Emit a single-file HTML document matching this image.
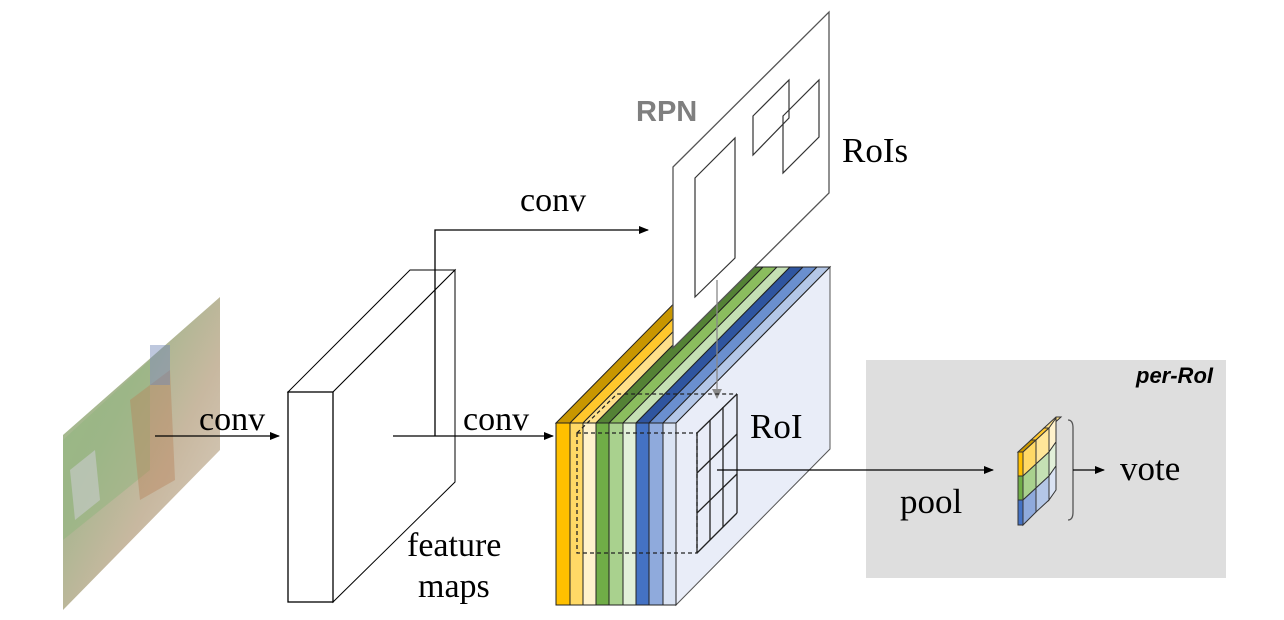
<!DOCTYPE html>
<html><head><meta charset="utf-8"><style>
html,body{margin:0;padding:0;background:#fff;}
svg{display:block}
text{font-family:"Liberation Serif",serif;fill:#000}
</style></head><body>
<svg width="1284" height="620" viewBox="0 0 1284 620" xmlns="http://www.w3.org/2000/svg">
<defs>
<marker id="ah" markerWidth="10" markerHeight="8" refX="9" refY="4" orient="auto" markerUnits="userSpaceOnUse"><path d="M0,0 L10,4 L0,8 z" fill="#000"/></marker>
<marker id="ahg" markerWidth="10" markerHeight="10" refX="5" refY="9" orient="0" markerUnits="userSpaceOnUse"><path d="M0,0 L10,0 L5,10 z" fill="#888"/></marker>
<linearGradient id="img" x1="0" y1="0" x2="1" y2="1">
<stop offset="0" stop-color="#9fbf8c"/><stop offset="0.35" stop-color="#a8b690"/><stop offset="0.6" stop-color="#c8b8a0"/><stop offset="1" stop-color="#ddd3c6"/>
</linearGradient>
</defs>
<rect x="866" y="360" width="360" height="218" fill="#DEDEDE"/>
<text x="1213" y="383" text-anchor="end" style="font-family:'Liberation Sans',sans-serif;font-weight:bold;font-style:italic;font-size:22px">per-RoI</text>

<polygon points="63,435 220,297 220,450 63,610" fill="url(#img)"/>
<polygon points="63,440 150,360 150,470 63,540" fill="#8fb57e" opacity="0.5"/>
<polygon points="130,400 170,370 175,480 140,500" fill="#b9865d" opacity="0.45"/>
<polygon points="70,470 95,450 100,500 75,520" fill="#c9cccd" opacity="0.6"/>
<rect x="150" y="345" width="20" height="40" fill="#6f86b6" opacity="0.45"/>

<line x1="155" y1="436" x2="279" y2="436" stroke="#000" stroke-width="1.3" marker-end="url(#ah)"/>
<text x="199" y="430" font-size="34">conv</text>

<polygon points="288,392 410,270 455,270 333,392" fill="#fff" stroke="#000" stroke-width="1"/>
<polygon points="333,392 455,270 455,482 333,602" fill="#fff" stroke="#000" stroke-width="1"/>
<rect x="288" y="392" width="45" height="210" fill="#fff" stroke="#000" stroke-width="1.3"/>
<text x="407" y="556" font-size="34">feature</text>
<text x="418" y="597" font-size="34">maps</text>

<line x1="393" y1="436" x2="553" y2="436" stroke="#000" stroke-width="1.3" marker-end="url(#ah)"/>
<polyline points="435,436 435,230 648,230" fill="none" stroke="#000" stroke-width="1.3" marker-end="url(#ah)"/>
<text x="463" y="430" font-size="34">conv</text>
<text x="520" y="211" font-size="34">conv</text>

<g stroke="#222" stroke-width="1">
<polygon points="676,423 830,267 830,449 676,605" fill="#E9EDF8" stroke="#555"/>
<polygon points="556,423 570,423 724,267 710,267" fill="#C89600"/>
<polygon points="570,423 583,423 737,267 724,267" fill="#FFC72C"/>
<polygon points="583,423 596,423 750,267 737,267" fill="#FFE08A"/>
<polygon points="596,423 609,423 763,267 750,267" fill="#548235"/>
<polygon points="609,423 623,423 777,267 763,267" fill="#8BBD5E"/>
<polygon points="623,423 636,423 790,267 777,267" fill="#C5E0B4"/>
<polygon points="636,423 649,423 803,267 790,267" fill="#2F55A0"/>
<polygon points="649,423 663,423 817,267 803,267" fill="#6A8FCF"/>
<polygon points="663,423 676,423 830,267 817,267" fill="#B4C7E7"/>
<rect x="556" y="423" width="14" height="182" fill="#FFC000"/>
<rect x="570" y="423" width="13" height="182" fill="#FFD966"/>
<rect x="583" y="423" width="13" height="182" fill="#FFF2CC"/>
<rect x="596" y="423" width="13" height="182" fill="#70AD47"/>
<rect x="609" y="423" width="14" height="182" fill="#A9D18E"/>
<rect x="623" y="423" width="13" height="182" fill="#E2F0D9"/>
<rect x="636" y="423" width="13" height="182" fill="#4472C4"/>
<rect x="649" y="423" width="14" height="182" fill="#8FAADC"/>
<rect x="663" y="423" width="13" height="182" fill="#DAE3F3"/>
</g>

<polygon points="673,167 829,12 829,193 673,348" fill="#fff" stroke="#555" stroke-width="1.3"/>
<polygon points="695,178 735,138 735,258 695,297" fill="none" stroke="#333" stroke-width="1.2"/>
<polygon points="753,116 789,80 789,118 753,155" fill="none" stroke="#333" stroke-width="1.2"/>
<polygon points="783,116 819,80 819,137 783,173" fill="none" stroke="#333" stroke-width="1.2"/>
<text x="636" y="121" style="font-family:'Liberation Sans',sans-serif;font-weight:bold;font-size:29px;fill:#7F7F7F">RPN</text>
<text x="842" y="162" font-size="35">RoIs</text>
<line x1="717" y1="280" x2="717" y2="398" stroke="#888" stroke-width="1.3" marker-end="url(#ahg)"/>

<g fill="none" stroke="#222" stroke-width="1.3">
<rect x="577" y="433" width="120" height="120" stroke-dasharray="4,3"/>
<polyline points="577,433 617,394 737,394" stroke-dasharray="4,3"/>
<line x1="697" y1="433" x2="737" y2="394"/>
<line x1="697" y1="473" x2="737" y2="434"/>
<line x1="697" y1="513" x2="737" y2="474"/>
<line x1="697" y1="553" x2="737" y2="513"/>
<line x1="697" y1="433" x2="697" y2="553"/>
<line x1="710" y1="420" x2="710" y2="540"/>
<line x1="723" y1="407" x2="723" y2="527"/>
<line x1="737" y1="394" x2="737" y2="513"/>
</g>
<text x="750" y="438" font-size="35">RoI</text>

<line x1="717" y1="470" x2="993" y2="470" stroke="#000" stroke-width="1.3" marker-end="url(#ah)"/>
<text x="900" y="513" font-size="35">pool</text>

<g stroke="#333" stroke-width="1">
<polygon points="1018,452 1023,452 1036,440 1031,440" fill="#C89600"/>
<polygon points="1031,440 1036,440 1049,428 1044,428" fill="#FFC72C"/>
<polygon points="1044,428 1049,428 1061,417 1056,417" fill="#FFE08A"/>
<polygon points="1023,452 1036,440 1036,464 1023,476" fill="#FFD966"/>
<polygon points="1036,440 1049,428 1049,452 1036,464" fill="#FFE699"/>
<polygon points="1049,428 1056,418 1056,442 1049,452" fill="#FFF2CC"/>
<polygon points="1023,476 1036,464 1036,488 1023,500" fill="#A9D18E"/>
<polygon points="1036,464 1049,452 1049,476 1036,488" fill="#C5E0B4"/>
<polygon points="1049,452 1056,442 1056,466 1049,476" fill="#E2F0D9"/>
<polygon points="1023,500 1036,488 1036,512 1023,525" fill="#8FAADC"/>
<polygon points="1036,488 1049,476 1049,500 1036,512" fill="#B4C7E7"/>
<polygon points="1049,476 1056,466 1056,490 1049,500" fill="#DAE3F3"/>
<rect x="1018" y="452" width="5" height="24" fill="#FFC000"/>
<rect x="1018" y="476" width="5" height="24" fill="#70AD47"/>
<rect x="1018" y="500" width="5" height="25" fill="#4472C4"/>
</g>
<path d="M1068,420 Q1073,420 1073,428 L1073,512 Q1073,520 1068,520" fill="none" stroke="#555" stroke-width="1.3"/>
<line x1="1073" y1="470" x2="1104" y2="470" stroke="#000" stroke-width="1.3" marker-end="url(#ah)"/>
<text x="1120" y="480" font-size="35">vote</text>
</svg>
</body></html>
